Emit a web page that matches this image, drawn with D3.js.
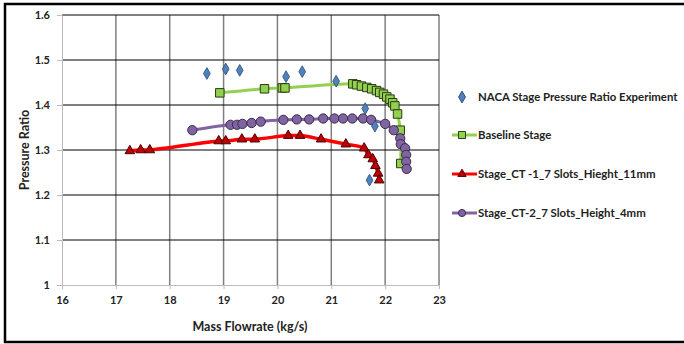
<!DOCTYPE html>
<html>
<head>
<meta charset="utf-8">
<script src="https://cdn.jsdelivr.net/npm/d3@7"></script>
<style>
  body { margin: 0; background: #fff; }
  text { font-family: Lato, "Open Sans", sans-serif; font-weight: bold; fill: #222; }
</style>
</head>
<body>
<div id="chart"></div>
<script>
// values
var nacaX = [18.69, 19.04, 19.30, 20.16, 20.46, 21.09, 21.63, 21.81, 21.71];
var nacaY = [1.470, 1.480, 1.477, 1.463, 1.474, 1.453, 1.392, 1.353, 1.233];

var baseX = [18.93, 19.76, 20.09, 20.14, 21.40, 21.47, 21.56, 21.66, 21.75, 21.84, 21.90, 21.97, 22.03, 22.09, 22.14, 22.18, 22.23, 22.28, 22.29];
var baseY = [1.427, 1.436, 1.438, 1.438, 1.447, 1.445, 1.442, 1.439, 1.436, 1.432, 1.428, 1.424, 1.418, 1.413, 1.405, 1.398, 1.380, 1.344, 1.270];

var ct1X = [17.26, 17.46, 17.63, 18.91, 19.04, 19.34, 19.58, 20.20, 20.42, 20.81, 21.27, 21.61, 21.69, 21.77, 21.82, 21.87, 21.89];
var ct1Y = [1.298, 1.300, 1.300, 1.320, 1.320, 1.324, 1.324, 1.332, 1.332, 1.324, 1.313, 1.304, 1.289, 1.280, 1.265, 1.248, 1.233];

var ct2X = [18.42, 19.13, 19.25, 19.35, 19.52, 19.69, 20.11, 20.36, 20.59, 20.85, 21.06, 21.22, 21.39, 21.59, 21.74, 22.00, 22.16, 22.28, 22.29, 22.37, 22.39, 22.39, 22.40];
var ct2Y = [1.344, 1.356, 1.356, 1.358, 1.360, 1.363, 1.367, 1.368, 1.368, 1.370, 1.370, 1.370, 1.370, 1.370, 1.367, 1.358, 1.344, 1.326, 1.313, 1.304, 1.289, 1.274, 1.258];

var xTicks = [16, 17, 18, 19, 20, 21, 22, 23];
var yTicks = [1, 1.1, 1.2, 1.3, 1.4, 1.5, 1.6];
var legendLabels = ["NACA Stage Pressure Ratio Experiment", "Baseline Stage", "Stage_CT -1_7 Slots_Hieght_11mm", "Stage_CT-2_7 Slots_Height_4mm"];

var W = 684, H = 344;
var svg = d3.select("#chart").append("svg").attr("width", W).attr("height", H);

// outer frame
svg.append("rect").attr("x", 5).attr("y", 4).attr("width", W).attr("height", 338)
  .attr("fill", "none").attr("stroke", "#000").attr("stroke-width", 2.5);

var x = d3.scaleLinear().domain([16, 23]).range([62, 439]);
var y = d3.scaleLinear().domain([1, 1.6]).range([285, 15]);

var g = svg.append("g");

// vertical grid (grey)
g.selectAll(".vg").data(xTicks.slice(1)).enter().append("line")
  .attr("x1", function (d) { return x(d); }).attr("x2", function (d) { return x(d); })
  .attr("y1", y(1.6)).attr("y2", y(1))
  .attr("stroke", "#808080").attr("stroke-width", 1.5);

// horizontal grid (black)
g.selectAll(".hg").data(yTicks.slice(1)).enter().append("line")
  .attr("x1", x(16)).attr("x2", x(23))
  .attr("y1", function (d) { return y(d); }).attr("y2", function (d) { return y(d); })
  .attr("stroke", "#000").attr("stroke-width", 1);

// axes
var xAxis = d3.axisBottom(x).tickValues(xTicks).tickSize(4).tickFormat(d3.format("d"));
var yAxis = d3.axisLeft(y).tickValues(yTicks).tickSize(5).tickFormat(function (d) { return d === 1 ? "1" : d3.format(".1f")(d); });

var gx = g.append("g").attr("transform", "translate(0," + y(1) + ")").call(xAxis);
gx.select(".domain").attr("stroke", "#bbb");
gx.selectAll(".tick line").attr("stroke", "#bbb");
gx.selectAll("text").attr("font-size", 11).attr("dy", "1.1em").attr("fill", "#222");

var gy = g.append("g").attr("transform", "translate(" + x(16) + ",0)").call(yAxis);
gy.select(".domain").attr("stroke", "#bbb");
gy.selectAll(".tick line").attr("stroke", "#bbb");
gy.selectAll("text").attr("font-size", 11).attr("x", -12).attr("fill", "#222");

svg.append("text").attr("x", 250).attr("y", 331).attr("text-anchor", "middle")
  .attr("font-size", 12.5).text("Mass Flowrate (kg/s)");
svg.append("text").attr("transform", "translate(29,150) rotate(-90)").attr("text-anchor", "middle")
  .attr("font-size", 12.5).text("Pressure Ratio");

function pts(xs, ys) { return xs.map(function (v, i) { return [v, ys[i]]; }); }

var line = d3.line().x(function (d) { return x(d[0]); }).y(function (d) { return y(d[1]); })
  .curve(d3.curveCatmullRom.alpha(0.5));

var series = [
  { data: pts(baseX, baseY), line: "#92D050", lw: 3, shape: d3.symbolSquare, size: 72, fill: "#92D050", stroke: "#2a3a10" },
  { data: pts(ct2X, ct2Y), line: "#8064A2", lw: 3, shape: d3.symbolCircle, size: 68, fill: "#8064A2", stroke: "#3a2c4c" },
  { data: pts(ct1X, ct1Y), line: "#FF0000", lw: 3.5, shape: d3.symbolTriangle, size: 40, fill: "#C00000", stroke: "#4a0000" }
];

series.forEach(function (s) {
  g.append("path").datum(s.data).attr("d", line)
    .attr("fill", "none").attr("stroke", s.line).attr("stroke-width", s.lw);
});
series.forEach(function (s) {
  g.selectAll(null).data(s.data).enter().append("path")
    .attr("d", d3.symbol().type(s.shape).size(s.size))
    .attr("transform", function (d) { return "translate(" + x(d[0]) + "," + y(d[1]) + ")"; })
    .attr("fill", s.fill).attr("stroke", s.stroke).attr("stroke-width", 1);
});

// NACA diamonds
g.selectAll(null).data(pts(nacaX, nacaY)).enter().append("path")
  .attr("d", d3.symbol().type(d3.symbolDiamond).size(40))
  .attr("transform", function (d) { return "translate(" + x(d[0]) + "," + y(d[1]) + ")"; })
  .attr("fill", "#4F81BD").attr("stroke", "#2c4d75").attr("stroke-width", 0.8);

// legend
var legY = [97, 135, 174, 213];
var leg = svg.append("g");
var legStyle = [
  { shape: d3.symbolDiamond, size: 40, fill: "#4F81BD", stroke: "#2c4d75", line: null },
  { shape: d3.symbolSquare, size: 50, fill: "#92D050", stroke: "#2a3a10", line: "#92D050" },
  { shape: d3.symbolTriangle, size: 30, fill: "#C00000", stroke: "#4a0000", line: "#FF0000" },
  { shape: d3.symbolCircle, size: 40, fill: "#8064A2", stroke: "#3a2c4c", line: "#8064A2" }
];
legendLabels.forEach(function (lab, i) {
  var st = legStyle[i];
  if (st.line) {
    leg.append("line").attr("x1", 452).attr("x2", 477).attr("y1", legY[i]).attr("y2", legY[i])
      .attr("stroke", st.line).attr("stroke-width", 3);
  }
  leg.append("path").attr("d", d3.symbol().type(st.shape).size(st.size))
    .attr("transform", "translate(462," + legY[i] + ")")
    .attr("fill", st.fill).attr("stroke", st.stroke).attr("stroke-width", 1);
  leg.append("text").attr("x", 478).attr("y", legY[i]).attr("dy", "0.35em")
    .attr("font-size", 11.4).text(lab);
});
</script>
</body>
</html>
